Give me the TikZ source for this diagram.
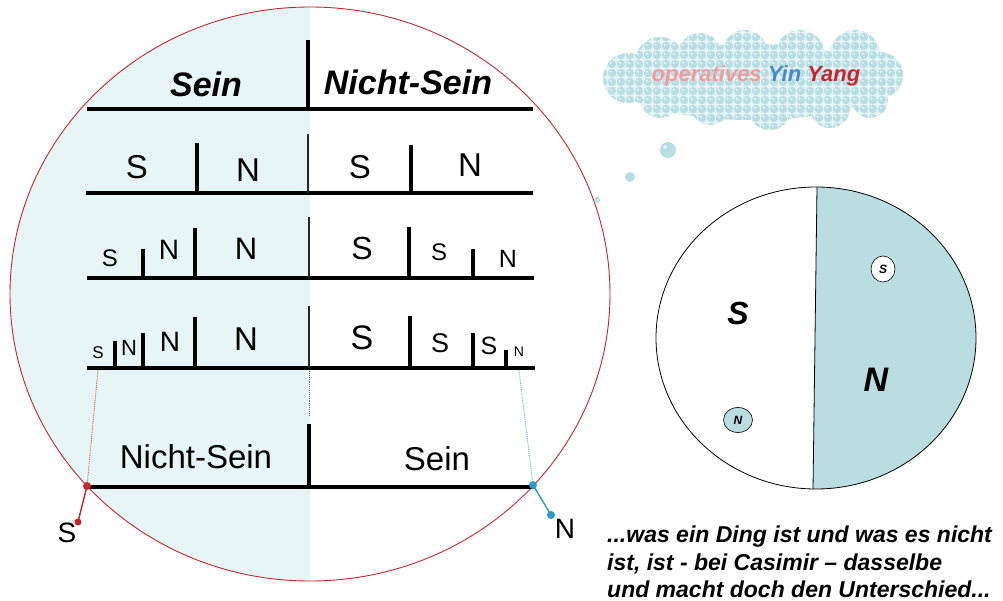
\documentclass[tikz,border=0pt]{standalone}
\usepackage{fontspec}
\setmainfont{Liberation Sans}
\usetikzlibrary{shapes.geometric}
\definecolor{shadeL}{HTML}{E8F5F6}
\definecolor{tealF}{HTML}{B9DDE1}
\definecolor{redLine}{HTML}{C4262E}
\definecolor{pinkT}{HTML}{F49A9C}
\definecolor{blueT}{HTML}{4A86CD}
\definecolor{redT}{HTML}{C8242C}
\definecolor{blueC}{HTML}{2C99CE}
\definecolor{bubble}{HTML}{B8DEE4}
\definecolor{cloudBg}{HTML}{E6F4F6}
\newcommand{\fs}[1]{\fontsize{#1}{#1}\selectfont}
\begin{document}
\begin{tikzpicture}[x=1pt,y=-1pt,
  bar/.style={line width=4pt},
  tk/.style={line width=3.5pt},
  midtk/.style={line width=2.8pt, black!85},
  lab/.style={inner sep=0pt, font=\fs{#1}},
  hdr/.style={inner sep=0pt, font=\fs{34}\bfseries\itshape},
  bi/.style={inner sep=0pt, font=\fs{#1}\bfseries\itshape},
  dotc/.style={fill, circle, inner sep=0pt, minimum size=#1},
  lnk/.style={line width=1.4pt}
]
\useasboundingbox (0,0) rectangle (1003,601);

% ---------- big circle with shaded left half
\begin{scope}
  \clip (310,294) ellipse [x radius=300, y radius=287];
  \fill[shadeL] (0,0) rectangle (310,601);
\end{scope}
\draw[redLine, line width=0.9pt] (310,294) ellipse [x radius=300, y radius=287];

% ---------- row 0 (header)
\draw[bar] (87,109) -- (533,109);
\draw[tk] (308,40) -- (308,109);
\node[hdr] (hSein) at (206,84) {Sein};
\node[hdr] (hNicht) at (408,82) {Nicht-Sein};

% ---------- row 1
\draw[bar] (86,193) -- (533,193);
\draw[tk] (197,143) -- (197,193);
\draw[midtk] (308,134) -- (308,193);
\draw[tk] (411,145) -- (411,193);
\node[lab=33] (S1a) at (137,167) {S};
\node[lab=33] (N1a) at (248,170) {N};
\node[lab=33] (S1b) at (360,167) {S};
\node[lab=33] (N1b) at (470,165) {N};

% ---------- row 2
\draw[bar] (87,278) -- (534,278);
\draw[tk] (143,249) -- (143,278);
\draw[tk] (195,228) -- (195,278);
\draw[midtk] (309,217) -- (309,278);
\draw[tk] (409,227) -- (409,278);
\draw[tk] (473,249) -- (473,278);
\node[lab=24] (S2a) at (110,258) {S};
\node[lab=28] (N2a) at (169,250) {N};
\node[lab=31] (N2b) at (246,249) {N};
\node[lab=32] (S2b) at (362,248) {S};
\node[lab=24] (S2c) at (439,252) {S};
\node[lab=25] (N2c) at (508,259) {N};

% ---------- row 3
\draw[bar] (87,368) -- (535,368);
\draw[tk] (115,341) -- (115,368);
\draw[tk] (143,333) -- (143,368);
\draw[tk] (195,317) -- (195,368);
\draw[midtk] (309,306) -- (309,368);
\draw[tk] (410,316) -- (410,368);
\draw[tk] (473,333) -- (473,368);
\draw[tk] (506,350) -- (506,368);
\node[lab=17] (S3a) at (98,353) {S};
\node[lab=22] (N3a) at (129,348) {N};
\node[lab=28] (N3b) at (170,342) {N};
\node[lab=33] (N3c) at (246,339) {N};
\node[lab=34] (S3b) at (362,338) {S};
\node[lab=27] (S3c) at (440,343) {S};
\node[lab=25] (S3d) at (489,346) {S};
\node[lab=14] (N3d) at (519,352) {N};

% ---------- row 4
\draw[bar] (87,487) -- (533,487);
\draw[tk] (309,424) -- (309,487);
\node[lab=33] (NS4) at (196,457) {Nicht-Sein};
\node[lab=33] (Sein4) at (437,459) {Sein};

% ---------- dotted guides
\coordinate (sTop) at (98,370);
\coordinate (nTop) at (519,370);
\coordinate (mTop) at (309,371);
\coordinate (mBot) at (309,416);
\node[dotc=8pt, redLine] (sDot) at (87,486) {};
\node[dotc=7pt, redLine] (sEnd) at (78,522) {};
\node[dotc=8pt, blueC] (nDot) at (533,485) {};
\node[dotc=8pt, blueC] (nEnd) at (551,515) {};
\draw[redLine!80, line width=0.9pt, densely dotted] (sTop) -- (sDot.center);
\draw[blueC!80, line width=0.9pt, densely dotted] (nTop) -- (nDot.center);
\draw[black!60, line width=0.9pt, densely dotted] (mTop) -- (mBot);
\draw[redLine, lnk] (sDot.center) -- (sEnd.center);
\draw[blueC, lnk] (nDot.center) -- (nEnd.center);
\node[lab=28] (Slab) at (67,533) {S};
\node[lab=28] (Nlab) at (565,529) {N};

% ---------- cloud
\begin{scope}
  \clip (752,82) ellipse [x radius=135, y radius=38]
        (628,78) circle (25) (660,62) circle (25) (700,55) circle (22)
        (745,52) circle (22) (800,55) circle (25) (855,55) circle (25)
        (880,75) circle (23) (870,100) circle (18) (830,108) circle (20)
        (770,108) circle (22) (710,105) circle (20) (660,98) circle (20);
  \fill[cloudBg] (600,25) rectangle (910,135);
  \foreach \i in {0,...,34} {
    \foreach \j in {0,...,12} {
      \fill[bubble] (603+\i*9, 28+\j*9) circle (4.2);
      \fill[white, opacity=0.7] (601.8+\i*9, 26.8+\j*9) circle (1.2);
    }
  }
\end{scope}
\fill[bubble] (668,150) circle (8);
\fill[white, opacity=0.6] (665,147) circle (2);
\fill[bubble] (630,177) circle (5);
\fill[bubble] (597,200) circle (3);
\node[anchor=base, inner sep=0pt, font=\fs{22}\bfseries\itshape] (yy) at (756,82)
  {\textcolor{pinkT}{operatives} \textcolor{blueT}{Yin} \textcolor{redT}{Yang}};

% ---------- right circle
\begin{scope}
  \clip (816,338) ellipse [x radius=160, y radius=151];
  \fill[tealF] (817,180) -- (1000,180) -- (1000,500) -- (813,500) -- cycle;
\end{scope}
\draw[line width=0.8pt] (816,338) ellipse [x radius=160, y radius=151];
\coordinate (divTop) at (817,187);
\coordinate (divBot) at (813,489);
\draw[line width=0.8pt] (divTop) -- (divBot);
\node[bi=32] (bigS) at (738,313) {S};
\node[bi=34] (bigN) at (876,380) {N};
\node[ellipse, draw, line width=0.6pt, fill=white, minimum width=24pt, minimum height=26pt, inner sep=0pt, font=\fs{12}\bfseries\itshape] (smS) at (883,269) {S};
\node[ellipse, draw, line width=0.6pt, fill=tealF, minimum width=29pt, minimum height=25pt, inner sep=0pt, font=\fs{12}\bfseries\itshape] (smN) at (738,420) {N};

% ---------- caption
\node[anchor=base west, inner sep=0pt, font=\fs{23}\bfseries\itshape] (t1) at (607,542) {...was ein Ding ist und was es nicht};
\node[anchor=base west, inner sep=0pt, font=\fs{23}\bfseries\itshape] (t2) at (607,570) {ist, ist - bei Casimir – dasselbe};
\node[anchor=base west, inner sep=0pt, font=\fs{23}\bfseries\itshape] (t3) at (607,597) {und macht doch den Unterschied...};
\end{tikzpicture}
\end{document}
